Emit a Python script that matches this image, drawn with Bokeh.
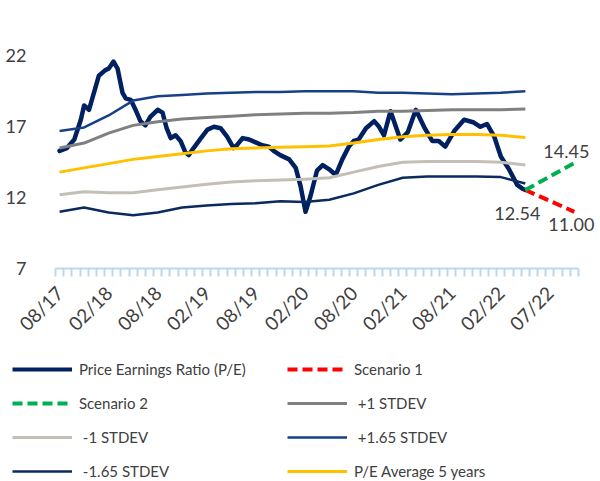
import math
from bokeh.plotting import figure
from bokeh.layouts import column
from bokeh.models import FixedTicker, Legend, LegendItem
from bokeh.core.properties import value
from bokeh.embed import file_html
from bokeh.resources import INLINE

# ---------------- data ----------------
tick_months = [0, 6, 12, 18, 24, 30, 36, 42, 48, 54, 60]
tick_labels = ["08/17", "02/18", "08/18", "02/19", "08/19", "02/20",
               "08/20", "02/21", "08/21", "02/22", "07/22"]
y_ticks = [7, 12, 17, 22]

# Price Earnings Ratio (P/E), months since 08/17
pe_month = [0.0, 0.9, 1.8, 2.6, 3.0, 3.6, 4.2, 4.8, 5.6, 6.0, 6.6, 7.1, 7.7, 8.1,
            8.7, 9.3, 9.9, 10.5, 11.1, 12.0, 12.6, 13.1, 13.6, 14.2, 14.8, 15.4,
            15.8, 16.4, 17.3, 18.1, 18.9, 19.7, 20.5, 21.3, 21.7, 22.4, 23.2,
            24.0, 24.8, 25.6, 26.2, 27.0, 28.1, 28.9, 29.5, 30.1, 30.7, 31.5,
            32.2, 33.0, 33.8, 34.6, 35.4, 36.0, 36.6, 37.5, 38.5, 39.1, 39.7,
            40.5, 41.7, 42.6, 43.6, 44.6, 45.6, 46.4, 47.2, 48.3, 49.5, 50.7,
            51.5, 52.3, 53.2, 54.0, 55.0, 56.0, 56.6, 57.0]
pe_ratio = [15.3, 15.5, 16.1, 17.5, 18.5, 18.2, 19.4, 20.6, 21.0, 21.1, 21.6, 21.1,
            19.4, 19.0, 18.9, 18.2, 17.4, 17.1, 17.7, 18.2, 18.0, 16.9, 16.2,
            16.4, 16.0, 15.2, 15.0, 15.5, 16.2, 16.8, 17.0, 16.9, 16.3, 15.5,
            15.7, 16.2, 16.1, 15.9, 15.7, 15.6, 15.3, 15.0, 14.7, 14.1, 12.8,
            11.0, 12.1, 13.9, 14.3, 14.0, 13.6, 14.7, 15.6, 16.0, 16.1, 16.9,
            17.4, 17.0, 16.4, 18.1, 16.1, 16.6, 18.2, 17.0, 16.0, 16.0, 15.6,
            16.7, 17.5, 17.3, 17.0, 17.2, 16.3, 14.9, 14.0, 12.9, 12.65, 12.54]

band_month = [0, 3, 6, 9, 12, 15, 18, 21, 24, 27, 30, 33, 36, 39, 42, 45, 48, 51, 54, 57]
plus1_stdev = [15.5, 15.85, 16.55, 17.1, 17.35, 17.55, 17.65, 17.75, 17.85, 17.9,
               17.95, 17.95, 18.0, 18.1, 18.1, 18.15, 18.2, 18.2, 18.2, 18.25]
minus1_stdev = [12.2, 12.42, 12.35, 12.35, 12.55, 12.75, 12.95, 13.1, 13.2, 13.25,
                13.3, 13.4, 13.8, 14.2, 14.5, 14.55, 14.55, 14.55, 14.5, 14.3]
plus165_stdev = [16.7, 16.95, 17.8, 18.85, 19.15, 19.25, 19.35, 19.4, 19.45, 19.45,
                 19.5, 19.5, 19.5, 19.4, 19.4, 19.35, 19.3, 19.35, 19.4, 19.5]
minus165_stdev = [11.0, 11.3, 10.95, 10.75, 10.95, 11.3, 11.45, 11.55, 11.6, 11.75,
                  11.7, 11.85, 12.3, 12.9, 13.4, 13.5, 13.5, 13.5, 13.45, 13.0]
pe_avg_5y = [13.8, 14.1, 14.4, 14.7, 14.9, 15.1, 15.3, 15.45, 15.5, 15.55,
             15.6, 15.65, 15.85, 16.1, 16.3, 16.4, 16.45, 16.45, 16.4, 16.25]

scen_month = [57, 63]
scenario1 = [12.54, 11.00]
scenario2 = [12.54, 14.45]

# ---------------- styles ----------------
FONT = "Lato"
TXT = "#404040"
styles = {
    "pe":    dict(line_color="#002060", line_width=4.5),
    "s1":    dict(line_color="#FF0000", line_width=4, line_dash="10 5"),
    "s2":    dict(line_color="#00B050", line_width=4, line_dash="10 5"),
    "p1":    dict(line_color="#808080", line_width=3),
    "m1":    dict(line_color="#C3BFB6", line_width=3),
    "p165":  dict(line_color="#173F8A", line_width=2.5),
    "m165":  dict(line_color="#0B2A5E", line_width=2.5),
    "avg":   dict(line_color="#FFC000", line_width=3),
}

# ---------------- main chart ----------------
p = figure(width=600, height=346, x_range=(-0.5, 66.2), y_range=(7, 24.5),
           output_backend="svg", toolbar_location=None,
           min_border_left=55, min_border_right=0, min_border_top=20,
           min_border_bottom=76)
p.frame_align = False
p.xgrid.visible = False
p.ygrid.visible = False
p.outline_line_color = None
p.background_fill_color = "white"
p.border_fill_color = "white"

p.line(pe_month, pe_ratio, line_join="round", line_cap="round", **styles["pe"])
p.line(scen_month, scenario1, **styles["s1"])
p.line(scen_month, scenario2, **styles["s2"])
p.line(band_month, plus1_stdev, **styles["p1"])
p.line(band_month, minus1_stdev, **styles["m1"])
p.line(band_month, plus165_stdev, **styles["p165"])
p.line(band_month, minus165_stdev, **styles["m165"])
p.line(band_month, pe_avg_5y, **styles["avg"])

# data labels
lab = dict(text_align="center", text_baseline="middle",
           text_font=value(FONT), text_font_size="18px", text_color=TXT)
p.text(x=[scen_month[0]], y=[scenario1[0]], text=[f"{scenario1[0]:.2f}"],
       x_offset=-8, y_offset=24, **lab)
p.text(x=[scen_month[1]], y=[scenario2[1]], text=[f"{scenario2[1]:.2f}"],
       x_offset=-8, y_offset=-11, **lab)
p.text(x=[scen_month[1]], y=[scenario1[1]], text=[f"{scenario1[1]:.2f}"],
       x_offset=-3, y_offset=13, **lab)

# x axis
xa = p.xaxis[0]
xa.bounds = (-0.5, 63.5)
xa.ticker = FixedTicker(ticks=tick_months, minor_ticks=[k - 0.5 for k in range(65)])
xa.major_label_overrides = {m: l for m, l in zip(tick_months, tick_labels)}
xa.major_tick_out = 0
xa.major_tick_in = 0
xa.minor_tick_out = 8
xa.minor_tick_in = 0
xa.axis_line_color = "#BDD7EE"
xa.axis_line_width = 2
xa.minor_tick_line_color = "#BDD7EE"
xa.minor_tick_line_width = 2
xa.major_label_orientation = math.pi / 4
xa.major_label_standoff = 13
xa.major_label_text_font = FONT
xa.major_label_text_font_size = "19px"
xa.major_label_text_color = TXT

# y axis
ya = p.yaxis[0]
ya.ticker = FixedTicker(ticks=y_ticks)
ya.axis_line_color = None
ya.major_tick_line_color = None
ya.minor_tick_line_color = None
ya.major_label_standoff = 23
ya.major_label_text_font = FONT
ya.major_label_text_font_size = "18px"
ya.major_label_text_color = TXT

# ---------------- legend panel ----------------
lg = figure(width=600, height=135, x_range=(0, 1), y_range=(0, 1),
            output_backend="svg", toolbar_location=None,
            x_axis_location=None, y_axis_location=None,
            min_border=0)
lg.frame_align = False
lg.xgrid.visible = False
lg.ygrid.visible = False
lg.outline_line_color = None
lg.background_fill_color = "white"
lg.border_fill_color = "white"

names = [("pe", "Price Earnings Ratio (P/E)"), ("s1", "Scenario 1"),
         ("s2", "Scenario 2"), ("p1", " +1 STDEV"), ("m1", " -1 STDEV"),
         ("p165", " +1.65 STDEV"), ("m165", " -1.65 STDEV"),
         ("avg", "P/E Average 5 years")]
items = []
for key, label in names:
    kw = dict(styles[key])
    if key == "pe":
        kw["line_width"] = 4
    r = lg.line([math.nan], [math.nan], **kw)
    items.append(LegendItem(label=label, renderers=[r]))

legend = Legend(items=items, location=(12, 0), orientation="horizontal", ncols=2,
                glyph_width=60, glyph_height=20, label_height=20, label_width=194,
                label_standoff=7, spacing=14, padding=0, margin=0,
                border_line_color=None, background_fill_alpha=0,
                label_text_font=FONT, label_text_font_size="15px",
                label_text_color=TXT)
lg.add_layout(legend, "center")

layout = column(p, lg, spacing=0)
open("out.html", "w").write(file_html(layout, INLINE))
